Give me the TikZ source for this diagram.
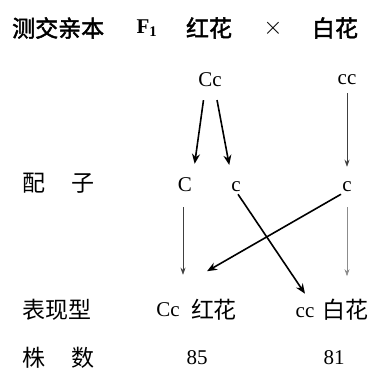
\documentclass[tikz,border=0pt]{standalone}
\usepackage{fontspec}
\setmainfont{Liberation Serif}
\newfontfamily\cjk{Noto Sans CJK SC}
\newfontfamily\cjkbold{Noto Sans CJK SC}[FakeBold=2]
\usetikzlibrary{arrows.meta}
\tikzset{
  rowlabel/.style={font=\cjk\fontsize{23}{26}\selectfont, anchor=west, inner sep=0pt},
  titlelabel/.style={font=\cjkbold\fontsize{23}{26}\selectfont, inner sep=0pt},
  hanzi/.style={font=\cjk\fontsize{23}{26}\selectfont, inner sep=2pt},
  gene/.style={font=\fontsize{21}{24}\selectfont, inner sep=2pt},
  thickarr/.style={-{Stealth[length=10pt,width=8pt]}, line width=1.6pt, black},
  thinarr/.style={-{Stealth[length=7pt,width=5pt]}, line width=0.6pt, black!75},
  faintarr/.style={-{Stealth[length=7pt,width=5pt]}, line width=0.6pt, black!45}
}
\begin{document}
\begin{tikzpicture}[x=1pt,y=-1pt]
  \useasboundingbox (0,0) rectangle (376,372);

  % Title row
  \node[titlelabel, anchor=west] (ltest) at (12,28) {测交亲本};
  \node[gene, font=\bfseries\fontsize{21}{24}\selectfont] (tF) at (147,28) {F\textsubscript{1}};
  \node[titlelabel] (tred) at (209,28) {红花};
  \node[gene, font=\fontsize{25}{28}\selectfont] (tcross) at (273,28) {$\times$};
  \node[titlelabel] (twhite) at (335,28) {白花};

  % Parent genotypes
  \node[gene] (pCc) at (210,80) {Cc};
  \node[gene] (pcc) at (347,80) {cc};

  % Gametes
  \node[rowlabel] (lgamete) at (22,183) {配\hspace{26pt}子};
  \node[gene] (gC) at (185,185) {C};
  \node[gene] (gc1) at (236,187) {c};
  \node[gene] (gc2) at (347,187) {c};

  % Offspring
  \node[rowlabel] (lpheno) at (22,310) {表现型};
  \node[gene] (oCc) at (168,310) {Cc};
  \node[hanzi] (ored) at (214,310) {红花};
  \node[gene] (occ) at (305,313) {cc};
  \node[hanzi] (owhite) at (346,310) {白花};

  % Counts
  \node[rowlabel] (lcount) at (22,358) {株\hspace{26pt}数};
  \node[gene] (n85) at (197,358) {85};
  \node[gene] (n81) at (334,358) {81};

  % Parent -> gametes
  \draw[thickarr, shorten <=11pt, shorten >=12pt] ([xshift=-5pt]pCc.south) -- ([xshift=8pt]gC.north);
  \draw[thickarr, shorten <=11pt, shorten >=15pt] ([xshift=5pt]pCc.south) -- ([xshift=-4pt]gc1.north);
  \draw[thinarr, shorten <=6pt, shorten >=13pt] (pcc.south) -- (gc2.north);

  % Gametes -> offspring
  \draw[thinarr, shorten <=13pt, shorten >=26pt] ([xshift=-2pt]gC.south) -- ([xshift=-2pt]gC.south |- oCc.north);
  \draw[faintarr, shorten <=13pt, shorten >=21pt] (gc2.south) -- (gc2.south |- owhite.north);
  \draw[thickarr] ([xshift=2pt]gc1.south) -- ([yshift=12pt]occ.north);
  \draw[thickarr] ([xshift=-6pt]gc2.south) -- ([xshift=-7pt,yshift=26pt]ored.north);
\end{tikzpicture}
\end{document}
